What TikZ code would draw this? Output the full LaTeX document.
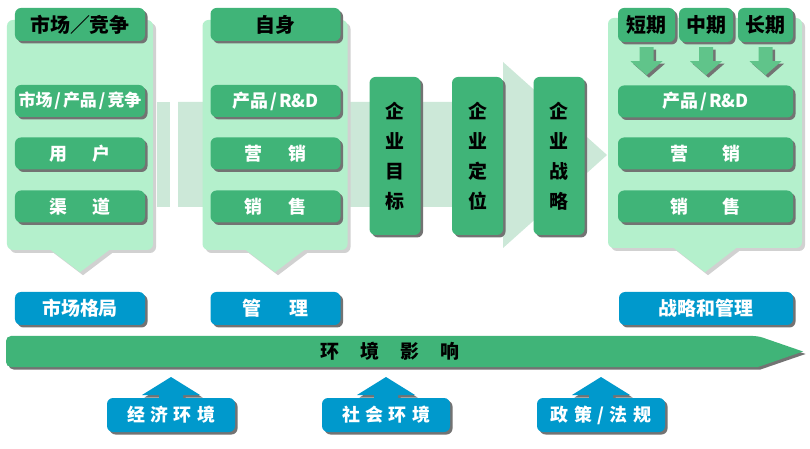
\documentclass[tikz,border=0pt]{standalone}
\usepackage{fontspec}
\setmainfont{Noto Sans CJK SC}
\usetikzlibrary{shadows}
\definecolor{dgreen}{RGB}{64,180,120}
\definecolor{pgreen}{RGB}{180,240,204}
\definecolor{bandc}{RGB}{204,232,216}
\definecolor{bluec}{RGB}{0,153,204}
\definecolor{agreen}{RGB}{96,196,138}
\newcommand{\slsep}{\hspace{0.12em}/\hspace{0.12em}}
\tikzset{
  boxshadow/.style={drop shadow={shadow xshift=2.5bp, shadow yshift=-2.5bp, fill=black!55, opacity=1}},
  softshadow/.style={drop shadow={shadow xshift=3bp, shadow yshift=-3bp, fill=black!18, opacity=1}},
  panel/.style={fill=pgreen, rounded corners=6bp, inner sep=0, softshadow},
  gbox/.style={fill=dgreen, rounded corners=6bp, inner sep=0, text=white,
    font=\bfseries\fontsize{18}{18}\selectfont, boxshadow,
    minimum height=32bp},
  hbox/.style={fill=dgreen, rounded corners=6bp, inner sep=0, text=black,
    font=\bfseries\fontsize{20}{20}\selectfont, boxshadow,
    minimum height=33bp},
  bbox/.style={fill=bluec, rounded corners=6bp, inner sep=0, text=white,
    font=\bfseries\fontsize{19}{19}\selectfont, boxshadow,
    minimum width=130bp, minimum height=33bp},
  vbox/.style={fill=dgreen, rounded corners=6bp, inner sep=0, text=black,
    font=\bfseries\fontsize{19}{30}\selectfont, align=center, boxshadow,
    minimum width=51bp, minimum height=158bp},
  downarrow/.style={fill=pgreen, softshadow},
  smallarrow/.style={fill=agreen, boxshadow},
  uparrow/.style={fill=bluec, boxshadow},
}
\begin{document}
\begin{tikzpicture}[x=1bp,y=-1bp]
\useasboundingbox[fill=white] (0,0) rectangle (810,449);

% pale flow band behind the centre column
\fill[bandc] (157,102) rectangle (170,207);
\fill[bandc] (178,102) -- (503,102) -- (503,62) -- (607,155)
  -- (503,248) -- (503,207) -- (178,207) -- cycle;

% ---- market / competition column
\node[panel, minimum width=146bp, minimum height=230bp] (p1) at (80,135) {};
\fill[downarrow] ([xshift=-29bp]p1.south) -- ([xshift=29bp]p1.south)
  -- ([yshift=-22bp]p1.south) -- cycle;
\node[hbox, minimum width=130bp] (h1) at (80,24.5) {市场／竞争};
\node[gbox, minimum width=130bp, font=\bfseries\fontsize{17}{17}\selectfont]
  (a1) at (80,101) {市场\slsep 产品\slsep 竞争};
\node[gbox, minimum width=130bp] (a2) at (80,153.5) {用\hspace{1.4em}户};
\node[gbox, minimum width=130bp] (a3) at (80,206.5) {渠\hspace{1.4em}道};
\node[bbox] (r1) at (80,308.5) {市场格局};

% ---- own company column
\node[panel, minimum width=145bp, minimum height=230bp] (p2) at (275,135) {};
\fill[downarrow] ([xshift=-29bp]p2.south) -- ([xshift=29bp]p2.south)
  -- ([yshift=-22bp]p2.south) -- cycle;
\node[hbox, minimum width=130bp] (h2) at (275.5,24.5) {自身};
\node[gbox, minimum width=130bp] (b1) at (275.5,101) {产品\slsep R\&D};
\node[gbox, minimum width=130bp] (b2) at (275.5,153.5) {营\hspace{1.5em}销};
\node[gbox, minimum width=130bp] (b3) at (275.5,206.5) {销\hspace{1.5em}售};
\node[bbox] (r2) at (275.5,308.5) {管\hspace{1.5em}理};

% ---- goal / positioning / strategy
\node[vbox] (v1) at (395,156) {企\\业\\目\\标};
\node[vbox] (v2) at (477.5,156) {企\\业\\定\\位};
\node[vbox] (v3) at (559,156) {企\\业\\战\\略};

% ---- strategy and management column
\node[panel, minimum width=194bp, minimum height=230bp] (p3) at (705,133) {};
\fill[downarrow] ([xshift=-31bp]p3.south) -- ([xshift=31bp]p3.south)
  -- ([yshift=-24bp]p3.south) -- cycle;
\node[hbox, minimum width=57bp, minimum height=34bp] (t1) at (646.5,25) {短期};
\node[hbox, minimum width=54bp, minimum height=34bp] (t2) at (706,25) {中期};
\node[hbox, minimum width=55bp, minimum height=34bp] (t3) at (765.5,25) {长期};
\foreach \t in {t1,t2,t3}{
  \fill[smallarrow] ([xshift=-7bp,yshift=-5bp]\t.south)
    -- ([xshift=7bp,yshift=-5bp]\t.south)
    -- ([xshift=7bp,yshift=-19bp]\t.south)
    -- ([xshift=16bp,yshift=-19bp]\t.south)
    -- ([yshift=-33bp]\t.south)
    -- ([xshift=-16bp,yshift=-19bp]\t.south)
    -- ([xshift=-7bp,yshift=-19bp]\t.south) -- cycle;
}
\node[gbox, minimum width=175bp] (c1) at (705.5,101.5) {产品\slsep R\&D};
\node[gbox, minimum width=175bp] (c2) at (705.5,153.5) {营\hspace{1.9em}销};
\node[gbox, minimum width=175bp] (c3) at (705.5,206.5) {销\hspace{1.9em}售};
\node[bbox, minimum width=174bp] (r3) at (706,308.5) {战略和管理};

% ---- environment arrow
\fill[dgreen, boxshadow, rounded corners=5bp] (6,336) -- (758,336)
  [sharp corners] -- (803,351.5) -- (758,367) [rounded corners=5bp] -- (6,367) -- cycle;
\node[text=black, font=\bfseries\fontsize{19}{19}\selectfont] (env) at (390,351.5)
  {环\hspace{1.1em}境\hspace{1.1em}影\hspace{1.1em}响};

% ---- external influences
\foreach \n/\x/\lbl in {e1/171/{经\hspace{0.3em}济\hspace{0.3em}环\hspace{0.3em}境},
                        e2/386/{社\hspace{0.3em}会\hspace{0.3em}环\hspace{0.3em}境},
                        e3/601/{政\hspace{0.3em}策\hspace{0.3em}/\hspace{0.3em}法\hspace{0.3em}规}}{
  \fill[uparrow] (\x-12,399) -- (\x-12,395) -- (\x-29,395) -- (\x,377)
    -- (\x+29,395) -- (\x+12,395) -- (\x+12,399) -- cycle;
  \node[bbox, minimum width=128bp, minimum height=34bp,
    font=\bfseries\fontsize{18}{18}\selectfont] (\n) at (\x,415) {\lbl};
}
\end{tikzpicture}
\end{document}
